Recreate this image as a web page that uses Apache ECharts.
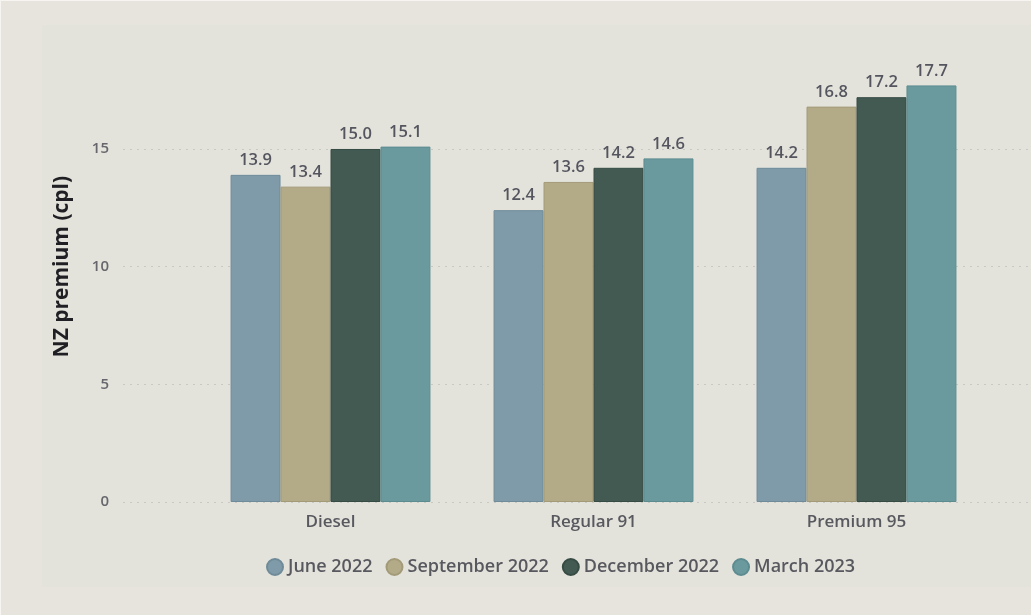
<!DOCTYPE html>
<html>
<head>
<meta charset="utf-8">
<title>NZ fuel premium</title>
<script src="https://cdn.jsdelivr.net/npm/echarts@6/dist/echarts.min.js"></script>
<style>
  html, body { margin: 0; padding: 0; background: #e7e4dd; }
  #chart { width: 1031px; height: 615px; }
</style>
</head>
<body>
<div id="chart"></div>
<script>
// Fuel grades on the category axis
const categories = ['Diesel', 'Regular 91', 'Premium 95'];

// Quarterly NZ premium (cents per litre) per grade
const june2022 = [13.9, 12.4, 14.2];
const september2022 = [13.4, 13.6, 16.8];
const december2022 = [15.0, 14.2, 17.2];
const march2023 = [15.1, 14.6, 17.7];

const seriesNames = ['June 2022', 'September 2022', 'December 2022', 'March 2023'];
const seriesValues = [june2022, september2022, december2022, march2023];
const seriesColors = ['#7f9aa8', '#b3aa88', '#435a52', '#6b9a9e'];
const seriesBorders = ['#6f8b99', '#a39a78', '#364b44', '#5d8c90'];

// Value axis ticks
const yTicks = [0, 5, 10, 15];
const yMin = 0, yMax = 20, yStep = 5;

const FONT = '"Open Sans", "Noto Sans", sans-serif';
const gridTop = 31.3, gridBottom = 113;

const chart = echarts.init(document.getElementById('chart'), null, { renderer: 'canvas' });

const option = {
  backgroundColor: '#e7e4dd',
  animation: false,
  graphic: [
    { type: 'rect', silent: true, z: -10,
      shape: { x: 42, y: 25, width: 989, height: 562 },
      style: { fill: '#e3e3dc' } },
    { type: 'rect', silent: true, z: -10,
      shape: { x: 0, y: 0, width: 1031, height: 1 },
      style: { fill: '#f6f5f1' } },
    { type: 'rect', silent: true, z: -10,
      shape: { x: 0, y: 0, width: 1, height: 615 },
      style: { fill: '#f6f5f1' } }
  ],
  legend: {
    data: seriesNames,
    left: 261,
    top: 553,
    icon: 'circle',
    itemWidth: 16,
    itemHeight: 16,
    itemGap: 13,
    textStyle: { fontFamily: FONT, fontWeight: 600, fontSize: 18, color: '#58585f' }
  },
  grid: [
    // wide grid carrying the value scale and dotted gridlines
    { left: 123, right: 0, top: gridTop, bottom: gridBottom },
    // grid holding the grouped bars
    { left: 199, width: 789, top: gridTop, bottom: gridBottom }
  ],
  xAxis: [
    { gridIndex: 0, type: 'category', data: categories, show: false },
    {
      gridIndex: 1, type: 'category', data: categories,
      axisLine: { show: false }, axisTick: { show: false },
      axisLabel: { margin: 12, fontFamily: FONT, fontWeight: 600, fontSize: 17, color: '#58585f' }
    }
  ],
  yAxis: [
    {
      gridIndex: 0, type: 'value', min: yMin, max: yMax, interval: yStep,
      name: 'NZ premium (cpl)', nameLocation: 'middle', nameGap: 50,
      nameTextStyle: { fontFamily: FONT, fontWeight: 700, fontSize: 21, color: '#1f1f24' },
      axisLine: { show: false }, axisTick: { show: false },
      axisLabel: {
        margin: 14, fontFamily: FONT, fontWeight: 600, fontSize: 15, color: '#66666c',
        formatter: v => (yTicks.indexOf(v) >= 0 ? String(v) : '')
      },
      splitLine: {
        show: true,
        lineStyle: {
          type: [2, 5], width: 1,
          color: yTicks.map(() => '#c9c9c3').concat(['rgba(0,0,0,0)'])
        }
      }
    },
    {
      gridIndex: 1, type: 'value', min: yMin, max: yMax, interval: yStep,
      show: false, splitLine: { show: false }
    }
  ],
  series: seriesNames.map((name, i) => ({
    name: name,
    type: 'bar',
    xAxisIndex: 1,
    yAxisIndex: 1,
    data: seriesValues[i],
    barGap: '0%',
    barCategoryGap: '24%',
    itemStyle: { color: seriesColors[i], borderColor: seriesBorders[i], borderWidth: 1 },
    label: {
      show: true, position: 'top', distance: 6,
      fontFamily: FONT, fontWeight: 600, fontSize: 16.5, color: '#55555f',
      formatter: p => p.value.toFixed(1)
    }
  }))
};

chart.setOption(option);
</script>
</body>
</html>
